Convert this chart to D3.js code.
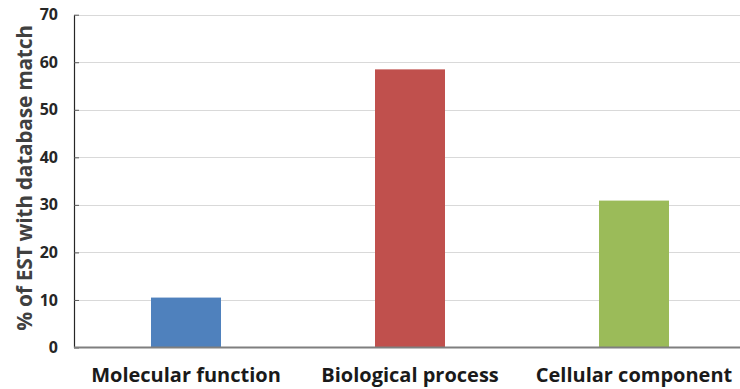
<!DOCTYPE html>
<html>
<head>
<meta charset="utf-8">
<script src="https://cdn.jsdelivr.net/npm/d3@7"></script>
<style>
  html, body { margin: 0; padding: 0; background: #fff; }
  svg { display: block; }
  text { font-family: "Open Sans", "Noto Sans", sans-serif; font-weight: bold; }
</style>
</head>
<body>
<svg id="chart" width="740" height="389"></svg>
<script>
const categories = ["Molecular function", "Biological process", "Cellular component"];
const values = [10.5, 58.5, 30.9];
const colors = ["#4f81bd", "#c0504d", "#9bbb59"];
const yTicks = [0, 10, 20, 30, 40, 50, 60, 70];
const yTitle = "% of EST with database match";

(function () {
const svg = d3.select("#chart");
const W = 740, H = 389;
const mLeft = 74, mRight = 746, mTop = 14.7, mBottom = 347.5;

const x = d3.scaleBand().domain(categories).range([mLeft, mRight]).paddingInner(0.6875).paddingOuter(0.34375);
const y = d3.scaleLinear().domain([0, 70]).range([mBottom, mTop]);

svg.append("rect").attr("width", W).attr("height", H).attr("fill", "#fff");

// gridlines
svg.append("g").selectAll("line").data(yTicks.filter(d => d > 0)).join("line")
  .attr("x1", mLeft).attr("x2", W)
  .attr("y1", d => Math.round(y(d)) + 0.5).attr("y2", d => Math.round(y(d)) + 0.5)
  .attr("stroke", "#d9d9d9").attr("stroke-width", 1);

// bars
svg.append("g").selectAll("rect").data(categories).join("rect")
  .attr("x", d => x(d))
  .attr("width", x.bandwidth())
  .attr("y", (d, i) => y(values[i]))
  .attr("height", (d, i) => y(0) - y(values[i]))
  .attr("fill", (d, i) => colors[i]);

// y axis
const yAxis = svg.append("g").attr("transform", `translate(${mLeft},0)`)
  .call(d3.axisLeft(y).tickValues(yTicks).tickSize(0).tickPadding(16));
yAxis.select(".domain").attr("stroke", "#262626").attr("stroke-width", 1.2);
yAxis.selectAll("text").attr("font-size", 16).attr("fill", "#262626")
  .attr("font-family", "'Open Sans', sans-serif").attr("font-weight", "bold");
yAxis.selectAll(".tick").append("line")
  .attr("x1", 0).attr("x2", 5).attr("stroke", "#595959").attr("stroke-width", 1);

// x axis
const xAxis = svg.append("g").attr("transform", `translate(0,${mBottom})`)
  .call(d3.axisBottom(x).tickSize(0).tickPadding(20));
xAxis.select(".domain").attr("stroke", "#7f7f7f").attr("stroke-width", 2)
  .attr("d", `M${mLeft},0H${W}`);
xAxis.selectAll("text").attr("font-size", 20).attr("fill", "#1a1a1a")
  .attr("font-family", "'Open Sans', sans-serif").attr("font-weight", "bold");

// y title
svg.append("text")
  .attr("transform", `translate(32,178) rotate(-90)`)
  .attr("text-anchor", "middle")
  .attr("font-size", 21).attr("letter-spacing", -0.3).attr("fill", "#404040")
  .text(yTitle);
})();
</script>
</body>
</html>
